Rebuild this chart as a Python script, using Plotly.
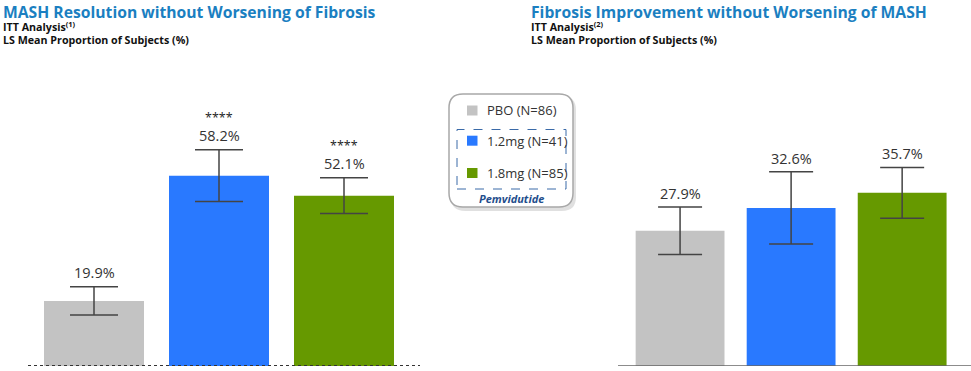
import plotly.graph_objects as go

W, H = 971, 371

groups = ["PBO (N=86)", "1.2mg (N=41)", "1.8mg (N=85)"]
colors = ["#c3c3c3", "#2979ff", "#669900"]

left_vals = [19.9, 58.2, 52.1]
left_err = [4.3, 7.9, 5.5]
left_sig = ["", "****", "****"]

right_vals = [27.9, 32.6, 35.7]
right_err = [4.9, 7.45, 5.25]

left_title = "MASH Resolution without Worsening of Fibrosis"
right_title = "Fibrosis Improvement without Worsening of MASH"
left_sub = "ITT Analysis<sup>(1)</sup>"
right_sub = "ITT Analysis<sup>(2)</sup>"
sub2 = "LS Mean Proportion of Subjects (%)"
legend_group_label = "Pemvidutide"


def px(x):
    return x / W


def py(y):
    return 1 - y / H


xs = [0, 1, 2]
fig = go.Figure()

fig.add_trace(go.Bar(
    x=xs, y=left_vals, marker=dict(color=colors, line=dict(width=0)), width=0.8,
    error_y=dict(type="data", array=left_err, color="#444444", thickness=1.5, width=24),
    xaxis="x", yaxis="y", showlegend=False, hoverinfo="skip"))
fig.add_trace(go.Bar(
    x=xs, y=right_vals, marker=dict(color=colors, line=dict(width=0)), width=0.8,
    error_y=dict(type="data", array=right_err, color="#444444", thickness=1.5, width=22),
    xaxis="x2", yaxis="y2", showlegend=False, hoverinfo="skip"))

ydom = [5 / H, (H - 60) / H]
fig.update_layout(
    width=W, height=H, margin=dict(l=0, r=0, t=0, b=0),
    paper_bgcolor="white", plot_bgcolor="rgba(0,0,0,0)",
    xaxis=dict(domain=[px(28), px(420)], range=[-0.528, 2.608], showgrid=False,
               zeroline=False, showticklabels=False, ticks="", showline=False),
    yaxis=dict(domain=ydom, range=[0, 306 / 3.27], showgrid=False, zeroline=False,
               showticklabels=False, ticks="", showline=False),
    xaxis2=dict(domain=[px(618), 1], range=[-0.559, 2.62], showgrid=False,
                zeroline=False, showticklabels=False, ticks="", showline=False),
    yaxis2=dict(domain=ydom, range=[0, 306 / 4.85], showgrid=False, zeroline=False,
                showticklabels=False, ticks="", showline=False, anchor="x2"),
    font=dict(family="Open Sans", color="#333333"),
)

shapes = []
# baselines
shapes.append(dict(type="line", xref="x domain", yref="y", x0=0, x1=1, y0=0, y1=0,
                   line=dict(color="#333333", width=2, dash="dot")))
shapes.append(dict(type="line", xref="x2 domain", yref="y2", x0=0, x1=1, y0=0, y1=0,
                   line=dict(color="#666666", width=1.5)))


def rr_path(x0, y0, x1, y1, r):
    X = lambda v: f"{px(v):.5f}"
    Y = lambda v: f"{py(v):.5f}"
    return (f"M {X(x0 + r)},{Y(y0)} L {X(x1 - r)},{Y(y0)} "
            f"Q {X(x1)},{Y(y0)} {X(x1)},{Y(y0 + r)} L {X(x1)},{Y(y1 - r)} "
            f"Q {X(x1)},{Y(y1)} {X(x1 - r)},{Y(y1)} L {X(x0 + r)},{Y(y1)} "
            f"Q {X(x0)},{Y(y1)} {X(x0)},{Y(y1 - r)} L {X(x0)},{Y(y0 + r)} "
            f"Q {X(x0)},{Y(y0)} {X(x0 + r)},{Y(y0)} Z")


# legend shadow + box
shapes.append(dict(type="path", xref="paper", yref="paper",
                   path=rr_path(451, 96, 576, 211, 14), fillcolor="rgba(0,0,0,0.12)",
                   line=dict(width=0)))
shapes.append(dict(type="path", xref="paper", yref="paper",
                   path=rr_path(449, 94, 573, 207, 14), fillcolor="white",
                   line=dict(color="#a8a8a8", width=1.5)))
# dashed pemvidutide box
shapes.append(dict(type="rect", xref="paper", yref="paper",
                   x0=px(457), x1=px(566), y0=py(189), y1=py(129.5),
                   line=dict(color="#3a6aa8", width=1, dash="dash")))
# legend squares
leg_y = [110.5, 140.7, 173]
for c, yc in zip(colors, leg_y):
    shapes.append(dict(type="rect", xref="paper", yref="paper",
                       x0=px(467), x1=px(477.5), y0=py(yc + 5), y1=py(yc - 5),
                       fillcolor=c, line=dict(width=0)))

ann = []
for g, yc in zip(groups, leg_y):
    ann.append(dict(xref="paper", yref="paper", x=px(485), y=py(yc), text=g,
                    showarrow=False, xanchor="left", yanchor="middle",
                    font=dict(size=13, color="#333333", family="Open Sans")))
ann.append(dict(xref="paper", yref="paper", x=px(511), y=py(198.5),
                text=f"<b><i>{legend_group_label}</i></b>", showarrow=False,
                xanchor="center", yanchor="middle",
                font=dict(size=11, color="#1f4e8c", family="Open Sans")))

# value labels
for i, (v, e, s) in enumerate(zip(left_vals, left_err, left_sig)):
    ann.append(dict(xref="x", yref="y", x=xs[i], y=v + e, text=f"{v:.1f}%",
                    showarrow=False, yanchor="bottom", yshift=3,
                    font=dict(size=14.5, color="#333333", family="Open Sans")))
    if s:
        ann.append(dict(xref="x", yref="y", x=xs[i], y=v + e, text=s,
                        showarrow=False, yanchor="bottom", yshift=23, borderpad=0,
                        font=dict(size=12.5, color="#222222", family="Open Sans")))
for i, (v, e) in enumerate(zip(right_vals, right_err)):
    ann.append(dict(xref="x2", yref="y2", x=xs[i], y=v + e, text=f"{v:.1f}%",
                    showarrow=False, yanchor="bottom", yshift=2,
                    font=dict(size=14.5, color="#333333", family="Open Sans")))

# titles
for x0, t, s in [(2, left_title, left_sub), (530, right_title, right_sub)]:
    ann.append(dict(xref="paper", yref="paper", x=px(x0), y=py(12), text=f"<b>{t}</b>",
                    showarrow=False, xanchor="left", yanchor="middle", borderpad=0,
                    font=dict(size=15.7, color="#1b7fc1", family="Open Sans")))
    ann.append(dict(xref="paper", yref="paper", x=px(x0), y=py(26.5), text=f"<b>{s}</b>",
                    showarrow=False, xanchor="left", yanchor="middle", borderpad=0,
                    font=dict(size=10.7, color="#111111", family="Open Sans")))
    ann.append(dict(xref="paper", yref="paper", x=px(x0), y=py(40.5), text=f"<b>{sub2}</b>",
                    showarrow=False, xanchor="left", yanchor="middle", borderpad=0,
                    font=dict(size=10.7, color="#111111", family="Open Sans")))

fig.update_layout(shapes=shapes, annotations=ann)
fig.write_html("out.html", config={"displayModeBar": False},
               post_script="document.body.style.margin='0';")
